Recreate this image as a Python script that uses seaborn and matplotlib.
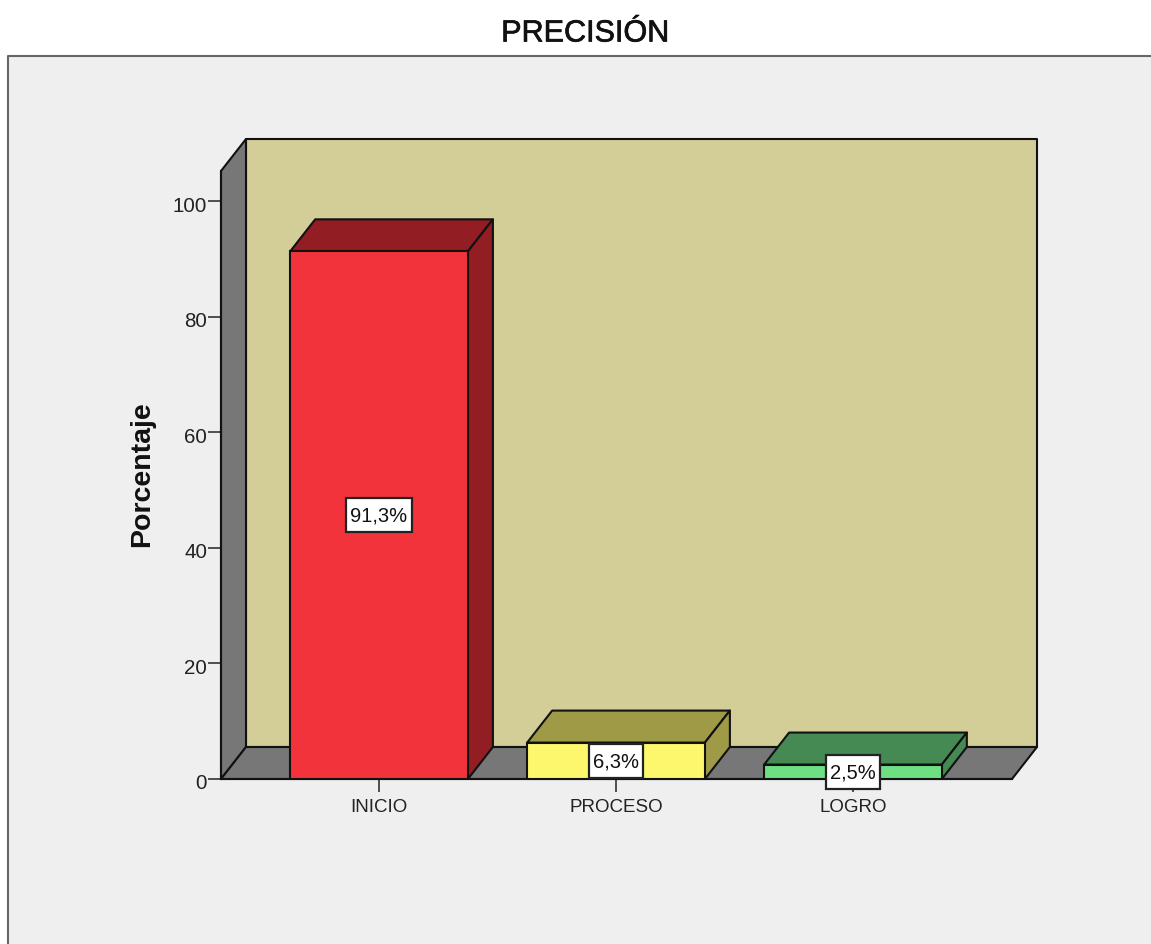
import matplotlib
matplotlib.use("Agg")
import matplotlib.pyplot as plt
from matplotlib.patches import Polygon, Rectangle
from matplotlib.lines import Line2D
from matplotlib.transforms import ScaledTranslation
import matplotlib.patheffects as pe
import seaborn as sns

categories = ["INICIO", "PROCESO", "LOGRO"]
percentages = [91.3, 6.3, 2.5]
value_labels = ["91,3%", "6,3%", "2,5%"]
y_ticks = [0, 20, 40, 60, 80, 100]

front_colors = ["#f2333b", "#fdf76e", "#6fdf84"]
shade_colors = ["#921d22", "#9e9a46", "#458a53"]
WALL = "#d3cd98"
SIDE = "#777777"
PANEL = "#efefef"
FRAME = "#666666"
INK = "#111111"
LW = 1.5

sns.set_theme(style="white")
plt.rcParams["font.family"] = ["Liberation Sans", "DejaVu Sans"]

W, H = 1151, 945
fig = plt.figure(figsize=(W / 100, H / 100), dpi=100, facecolor="white")

# Grey chart panel, open towards the right and bottom edges of the figure
top = (H - 56.5) / H
fig.add_artist(Rectangle((8 / W, 0), 1.0, top, transform=fig.transFigure,
                         facecolor=PANEL, edgecolor="none", zorder=-5))
fig.add_artist(Line2D([8 / W, 8 / W, 1], [0, top, top],
                      transform=fig.transFigure, color=FRAME, lw=1.5, zorder=-4))
fig.text(585 / W, 1 - 34.5 / H, "PRECISIÓN", ha="center", va="center",
         fontsize=22, color="#111111",
         path_effects=[pe.withStroke(linewidth=0.5, foreground="#111111")])

ax = fig.add_axes([221 / W, (H - 780) / H, 791 / W, 608 / H])
ax.set_facecolor("none")

sns.barplot(x=categories, y=percentages, hue=categories, palette=front_colors,
            saturation=1, width=0.75, edgecolor=INK, linewidth=LW,
            legend=False, ax=ax, zorder=4)

xmin, xmax = -0.667, 2.671
ymax = 105.2
ax.set_xlim(xmin, xmax)
ax.set_ylim(0, ymax)

# Oblique depth of the box, as axis units
dx = 25 / 237
dy = 32 / 5.78


def face(points, color, z):
    ax.add_patch(Polygon(points, closed=True, facecolor=color, edgecolor=INK,
                         linewidth=LW, joinstyle="round", clip_on=False, zorder=z))


# Back wall, side wall and floor
face([(xmin + dx, dy), (xmax + dx, dy), (xmax + dx, ymax + dy), (xmin + dx, ymax + dy)], WALL, 1)
face([(xmin, 0), (xmin + dx, dy), (xmin + dx, ymax + dy), (xmin, ymax)], SIDE, 1.1)
face([(xmin, 0), (xmax, 0), (xmax + dx, dy), (xmin + dx, dy)], SIDE, 1.2)

# Top and side faces of each bar
half = 0.75 / 2
for i, (v, shade) in enumerate(zip(percentages, shade_colors)):
    face([(i - half, v), (i + half, v), (i + half + dx, v + dy), (i - half + dx, v + dy)], shade, 3)
    face([(i + half, 0), (i + half + dx, dy), (i + half + dx, v + dy), (i + half, v)], shade, 3)

ax.set_yticks(y_ticks)
ax.set_xticks(range(len(categories)))
ax.set_xticklabels(categories)
ax.tick_params(axis="both", which="major", direction="out", length=9.4, width=1.2,
               color="#333333", labelcolor="#222222", bottom=True, left=True)
ax.tick_params(axis="y", labelsize=14.8, pad=0.5)
ax.tick_params(axis="x", labelsize=13.5, pad=4)
for name, sp in ax.spines.items():
    sp.set_visible(name in ("left", "bottom"))
    sp.set_color(INK)
    sp.set_linewidth(LW)
    sp.set_zorder(2)

# The value-axis numbers sit slightly below their tick marks
nudge = ScaledTranslation(0, -2 / 100, fig.dpi_scale_trans)
for lab in ax.get_yticklabels():
    lab.set_transform(lab.get_transform() + nudge)

ax.set_xlabel("")
ax.set_ylabel("")
fig.text(142 / W, 1 - 474.5 / H, "Porcentaje", rotation=90, ha="center", va="center",
         fontsize=20.5, fontweight="bold", color="#111111")

# Value labels in white boxes at the middle of each bar
fig.canvas.draw()
rend = fig.canvas.get_renderer()
inv = ax.transData.inverted()
for i, (v, label) in enumerate(zip(percentages, value_labels)):
    t = ax.text(i, v / 2, label, ha="center", va="center", fontsize=14.5,
                color="#111111", zorder=7)
    box = t.get_window_extent(rend)
    cx, cy = ax.transData.transform((i, v / 2))
    half_w, half_h = box.width / 2 + 4, 17
    (x0, y0), (x1, y1) = inv.transform([(cx - half_w, cy - half_h), (cx + half_w, cy + half_h)])
    ax.add_patch(Rectangle((x0, y0), x1 - x0, y1 - y0, facecolor="white",
                           edgecolor="#222222", linewidth=1.6, clip_on=False, zorder=6))

fig.savefig("out.png", dpi=100, facecolor="white")
